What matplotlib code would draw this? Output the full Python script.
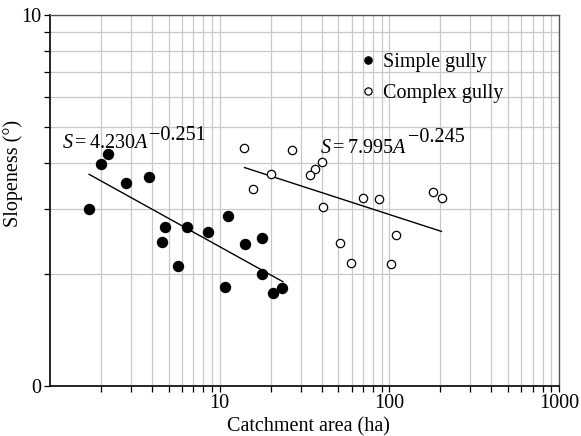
import matplotlib
matplotlib.use('Agg')
import matplotlib.pyplot as plt
from matplotlib.lines import Line2D
from matplotlib.ticker import FixedLocator, FixedFormatter, NullFormatter

plt.rcParams['font.family'] = ['Liberation Serif', 'DejaVu Serif']
plt.rcParams['mathtext.fontset'] = 'custom'
plt.rcParams['mathtext.rm'] = 'Liberation Serif'
plt.rcParams['mathtext.it'] = 'Liberation Serif:italic'

# simple gully (filled)
simple_area = [1.70, 2.00, 2.19, 2.80, 3.82, 4.75, 4.58, 5.69, 6.45, 8.53,
               11.25, 10.7, 14.1, 17.7, 17.7, 20.6, 23.4]
simple_slope = [3.00, 3.97, 4.22, 3.52, 3.66, 2.69, 2.44, 2.11, 2.69, 2.60,
                2.87, 1.85, 2.41, 2.50, 2.00, 1.785, 1.84]

# complex gully (open)
complex_area = [14.0, 26.8, 20.1, 15.7, 40.0, 36.5, 33.9, 40.5, 69.7, 86.5,
                181.5, 203, 51.0, 59.2, 109.5, 102.3]
complex_slope = [4.38, 4.32, 3.72, 3.39, 4.01, 3.84, 3.71, 3.03, 3.21, 3.19,
                 3.33, 3.21, 2.43, 2.15, 2.55, 2.13]

# fitted lines (end points)
simple_fit_x = [1.70, 23.6]
simple_fit_y = [3.72, 1.91]
complex_fit_x = [14.0, 203]
complex_fit_y = [3.88, 2.61]

W, H = 581, 436
FS = 14.5
fig = plt.figure(figsize=(W / 100, H / 100), dpi=100)
ax = fig.add_axes([50 / W, (H - 386) / H, 509 / W, 371 / H])
ax.set_xscale('log')
ax.set_yscale('log')
ax.set_xlim(1, 1000)
ax.set_ylim(1, 10)

ax.grid(True, which='both', color='#c8c8c8', lw=0.9)
ax.set_axisbelow(True)

ax.xaxis.set_major_locator(FixedLocator([10, 100, 1000]))
ax.xaxis.set_major_formatter(FixedFormatter(['10', '100', '1000']))
ax.xaxis.set_minor_locator(FixedLocator([m * d for d in (1, 10, 100) for m in range(2, 10)]))
ax.xaxis.set_minor_formatter(NullFormatter())
ax.yaxis.set_major_locator(FixedLocator([1, 10]))
ax.yaxis.set_major_formatter(FixedFormatter(['0', '10']))
ax.yaxis.set_minor_locator(FixedLocator(list(range(2, 10))))
ax.yaxis.set_minor_formatter(NullFormatter())
ax.tick_params(which='both', direction='out', length=4, width=0.9, color='black',
               labelsize=FS)
ax.tick_params(axis='x', pad=2)
ax.tick_params(axis='y', pad=2)

for s in ('left', 'bottom'):
    ax.spines[s].set_linewidth(1.2)
    ax.spines[s].set_color('black')
for s in ('top', 'right'):
    ax.spines[s].set_linewidth(1.0)
    ax.spines[s].set_color('#555555')

ax.plot(simple_fit_x, simple_fit_y, color='black', lw=1.0)
ax.plot(complex_fit_x, complex_fit_y, color='black', lw=1.0)
ax.plot(simple_area, simple_slope, 'o', color='black', ms=7.2, mec='black')
ax.plot(complex_area, complex_slope, 'o', mfc='white', mec='black', ms=6.0, mew=0.9)

ax.set_xlabel('Catchment area (ha)', fontsize=FS)
ax.set_ylabel('Slopeness (°)', fontsize=FS)
ax.xaxis.set_label_coords(0.508, -0.085)
ax.yaxis.set_label_coords(-0.053, 0.574)


def ptext(x, y, s, **kw):
    fig.text(x / W, 1 - y / H, s, va='baseline', ha='left', **kw)


ptext(61.7, 148, r'$S = 4.230A$', fontsize=FS)
ptext(149, 139.5, '\u22120.251', fontsize=FS)
ptext(319.5, 153, r'$S = 7.995A$', fontsize=FS)
ptext(408, 141.7, '\u22120.245', fontsize=FS)

handles = [
    Line2D([], [], ls='none', marker='o', color='black', ms=5.2),
    Line2D([], [], ls='none', marker='o', mfc='white', mec='black', ms=5.2, mew=0.9),
]
ax.legend(handles, ['Simple gully', 'Complex gully'], frameon=False, fontsize=FS,
          loc='upper left', bbox_to_anchor=(358 / W, 1 - 49 / H),
          bbox_transform=fig.transFigure, handlelength=0.6, handletextpad=0.45,
          labelspacing=0.58, borderpad=0.2, borderaxespad=0)

fig.savefig('out.png', dpi=100)
